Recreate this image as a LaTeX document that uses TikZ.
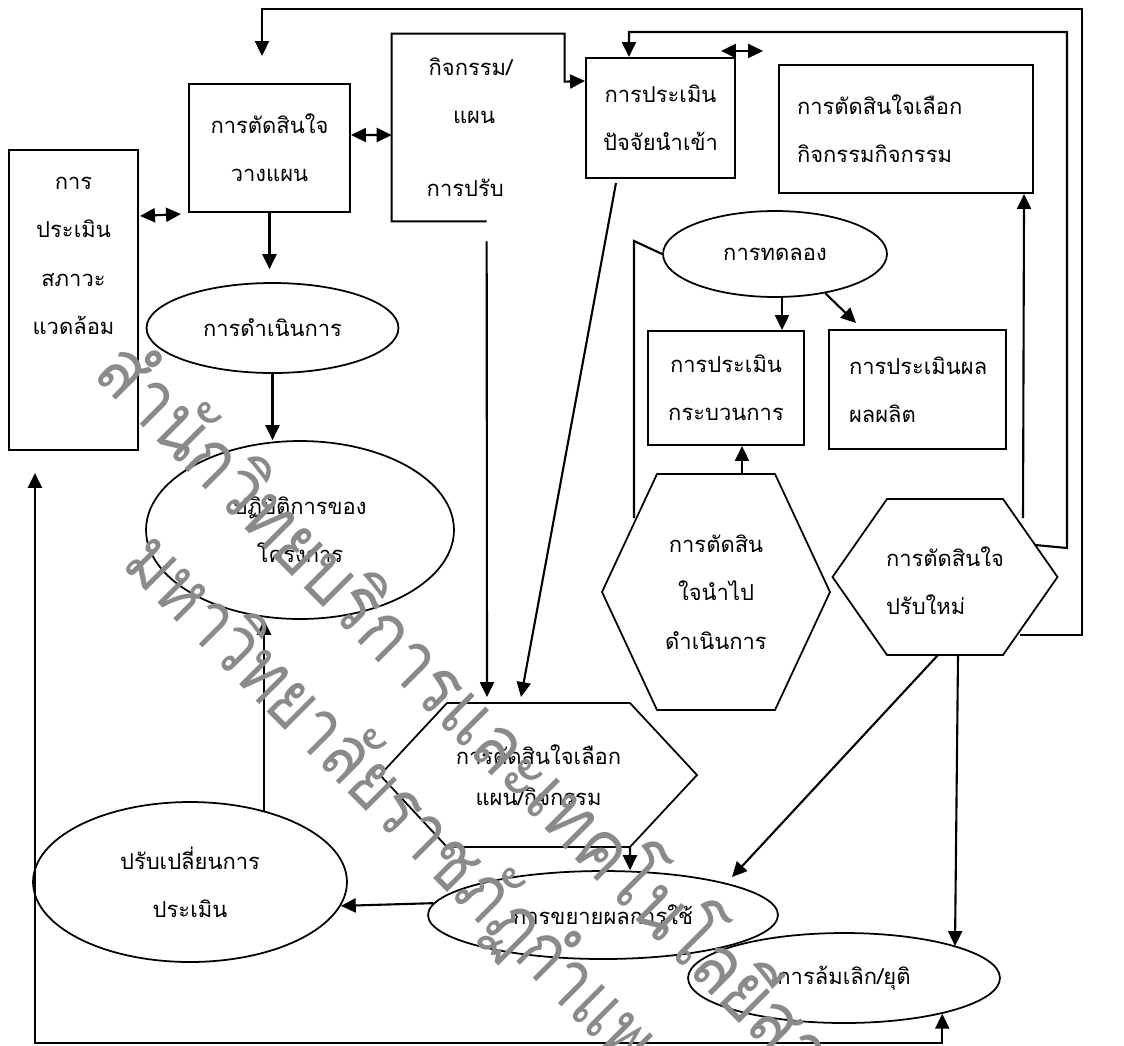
\documentclass[tikz,border=0pt]{standalone}
\usepackage{fontspec}
\setmainfont[Script=Thai]{Loma}
\usetikzlibrary{arrows.meta, calc, shapes.geometric}

\tikzset{
  box/.style={draw, line width=1.2pt, fill=white, inner sep=0pt, align=center},
  oval/.style={draw, ellipse, line width=1pt, fill=white, inner sep=0pt, align=center},
  hexline/.style={line width=1pt},
  plain/.style={line width=1.2pt},
  arr/.style={line width=1.2pt, -{Triangle[length=8.5pt,width=8pt]}},
  dblarr/.style={line width=1.2pt, {Triangle[length=8.5pt,width=8pt]}-{Triangle[length=8.5pt,width=8pt]}},
  watermark/.style={text=black!46, font=\fontsize{45}{45}\selectfont}
}

\begin{document}
\begin{tikzpicture}[x=0.02cm, y=-0.02cm, font=\fontsize{12.5}{27.5}\selectfont]
    \useasboundingbox (0,0) rectangle (1124,1045);

    % Planning side
    \node[box, minimum width=2.58cm, minimum height=6cm] (env) at (73.5,300) {};
    \node[align=center] (envtext) at (73.5,256) {การ\\ประเมิน\\สภาวะ\\แวดล้อม};
    \node[box, minimum width=3.22cm, minimum height=2.56cm] (plan) at (269.5,148) {การตัดสินใจ\\วางแผน};
    \node[inner sep=0pt, minimum width=2.72cm, minimum height=3.74cm, align=center] (adjust) at (460,127.5) {\hspace*{12pt}กิจกรรม/\\\hspace*{16pt}แผน\\[14pt]\hspace*{6pt}การปรับ};
    \node[box, minimum width=2.98cm, minimum height=2.4cm] (invest) at (660.5,118) {การประเมิน\\ปัจจัยนำเข้า};
    \node[box, minimum width=5.08cm, minimum height=2.56cm, inner xsep=0.36cm, text width=4.36cm, align=left] (choose) at (906,129) {การตัดสินใจเลือก\\กิจกรรมกิจกรรม};

    % Operation
    \node[oval, minimum width=5.04cm, minimum height=1.8cm] (doing) at (272.5,328) {การดำเนินการ};
    \node[oval, minimum width=6.16cm, minimum height=3.56cm] (operation) at (300,530) {ปฏิบัติการของ\\โครงการ};

    % Trial and its evaluations
    \node[oval, minimum width=4.48cm, minimum height=1.72cm] (trial) at (775,254) {การทดลอง};
    \node[box, minimum width=3.12cm, minimum height=2.28cm] (process) at (726,388) {การประเมิน\\กระบวนการ};
    \node[box, minimum width=3.54cm, minimum height=2.38cm, inner xsep=0.4cm, text width=2.74cm, align=left] (product) at (917.5,389.5) {การประเมินผล\\ผลผลิต};

    % Decisions
    \draw[hexline, shift={(716,592)}] (-114,0) -- (-59,-118) -- (59,-118) -- (114,0) -- (59,118) -- (-59,118) -- cycle;
    \node[align=center] (implement) at (716,592) {การตัดสิน\\ใจนำไป\\ดำเนินการ};
    \draw[hexline, shift={(945,577)}] (-112.5,0) -- (-58,-78) -- (58,-78) -- (112.5,0) -- (58,78) -- (-58,78) -- cycle;
    \node[align=left] (readjust) at (945,581) {การตัดสินใจ\\ปรับใหม่};
    \draw[hexline, shift={(538.5,775)}] (-158.5,0) -- (-91.5,-72) -- (91.5,-72) -- (158.5,0) -- (91.5,72) -- (-91.5,72) -- cycle;
    \node[align=center, font=\fontsize{12.5}{23}\selectfont] (select) at (538.5,775) {การตัดสินใจเลือก\\แผน/กิจกรรม};

    % Results
    \node[oval, minimum width=6.28cm, minimum height=3.2cm] (revise) at (190,882) {ปรับเปลี่ยนการ\\ประเมิน};
    \node[oval, minimum width=7cm, minimum height=1.76cm] (expand) at (603,915) {การขยายผลการใช้};
    \node[oval, minimum width=6.24cm, minimum height=1.8cm] (abort) at (844,978) {การล้มเลิก/ยุติ};

    % Links on the top row
    \draw[dblarr] ($(env.north east)+(1,67)$) -- ($(plan.south west)+(-7,1)$);
    \draw[dblarr] ($(plan.east)+(0,-13)$) -- ($(adjust.west)+(0,7.5)$);
    \draw[dblarr] ($(invest.north east)+(-15,-6)$) -- ++(42,0);
    \draw[arr] ($(adjust.south west)+(95,0)$) -- (adjust.south west) -- (adjust.north west) -- ++(173,0) -- ++(0,48) -- ($(invest.north west)+(0,24)$);

    % Down the left side
    \draw[arr] (plan.south) -- ($(doing.north)+(-3,-13)$);
    \draw[arr] (doing.south) -- (doing.south |- operation.north);
    \draw[arr] (revise.44) -- (revise.44 |- operation.south);
    \draw[arr] (expand.176) -- (revise.351);

    % Into the choice of plan
    \draw[arr] ($(adjust.south west)+(95,20)$) -- ($(select)+(-51.5,-78)$);
    \draw[arr] ($(invest.south west)+(31,4)$) -- ($(select)+(-17.5,-78)$);
    \draw[arr] ($(select)+(91.5,72)$) -- ($(expand.north)+(27,0)$);

    % Trial
    \draw[plain] ($(implement)+(-82,-74)$) -- ++(0,-277) -- (trial.west);
    \draw[arr] ($(trial.south)+(7,0)$) -- ($(process.north)+(56,0)$);
    \draw[arr] (trial.322) -- ($(product.north west)+(28,-6)$);
    \draw[arr] ($(implement)+(26,-118)$) -- ($(process.south)+(16,0)$);

    % Readjustment loops
    \draw[arr] ($(readjust)+(75,54)$) -- ++(62,0) |- ($(plan.north)+(-7.5,-74)$) -- ($(plan.north)+(-7.5,-27)$);
    \draw[arr] ($(readjust)+(90,-36)$) -- ++(32,3) |- ($(invest.north west)+(44,-25)$) -- ($(invest.north west)+(44,0)$);
    \draw[arr] ($(readjust)+(78,-63)$) -- ($(choose.south east)+(-10,0)$);
    \draw[arr] ($(readjust)+(-7,74)$) -- ($(expand)+(129,-38)$);
    \draw[arr] ($(readjust)+(13,74)$) -- ($(abort)+(111,-32)$);

    % Back to the start
    \draw[dblarr] (abort.340.5) -- ++(0,29) -| ($(env.south west)+(27,22)$);

    % Watermark
    \node[watermark, rotate=-45, xscale=0.86, anchor=base west] (stamp1) at (88,372) {สำนักวิทยบริการและเทคโนโลยีสารสนเทศ};
    \node[watermark, rotate=-45, xscale=0.82, anchor=base west] (stamp2) at (117,562) {มหาวิทยาลัยราชภัฏกำแพงเพชร};
\end{tikzpicture}
\end{document}
